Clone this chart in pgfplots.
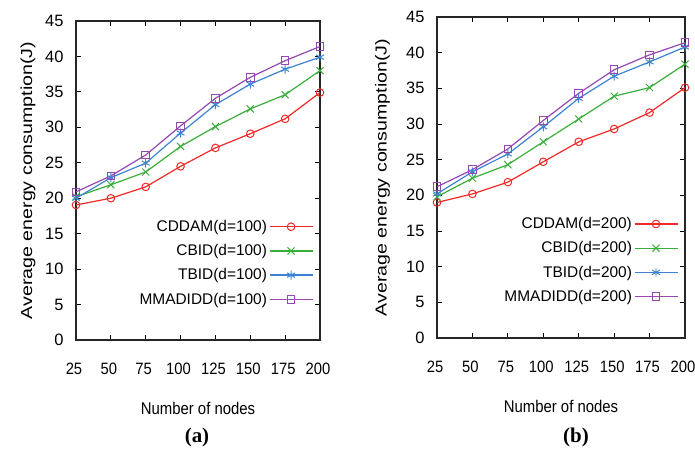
\documentclass[border=0pt]{standalone}
\usepackage{pgfplots}
\pgfplotsset{compat=1.18}
\usepackage{fontspec}
\setmainfont{Liberation Sans}
\newfontfamily\capfont{Liberation Serif}

\definecolor{cRed}{HTML}{F02828}
\definecolor{cGreen}{HTML}{3AAE3A}
\definecolor{cBlue}{HTML}{3C84D2}
\definecolor{cPurple}{HTML}{9448B0}

\pgfplotsset{
  nodeplot/.style={
    scale only axis,
    xmin=25, xmax=200, ymin=0, ymax=45,
    xtick={25,50,75,100,125,150,175,200},
    ytick={0,5,10,15,20,25,30,35,40,45},
    tick align=inside,
    major tick length=5bp,
    tick style={black, line width=0.8pt},
    axis line style={line width=1.1pt, black!85},
    font=\fontsize{16.5}{19}\selectfont,
    /pgf/number format/assume math mode=true,
    xticklabel={\scalebox{0.9}[1]{\pgfmathprintnumber{\tick}}},
    yticklabel style={xshift=-9bp},
    xticklabel style={yshift=-20bp, xshift=-2bp},
    xlabel={\fontsize{17}{20}\selectfont\scalebox{0.88}[1]{Number of nodes}},
    ylabel={\fontsize{16}{19}\selectfont\scalebox{1.23}[1]{Average energy consumption(J)}},
    xlabel style={yshift=-20bp},
    legend cell align=right,
    legend plot pos=right,
    legend style={draw=none, fill=none, at={(0.985,0.388)}, anchor=north east,
      font=\fontsize{15.5}{18}\selectfont, row sep=7.5bp},
    legend image code/.code={
      \draw[mark repeat=2, mark phase=2] plot coordinates {(0bp,0bp) (21.5bp,0bp) (43bp,0bp)};},
    every axis plot/.append style={line width=1.2pt},
  },
  ser1/.style={cRed, mark=o, mark size=3.8bp, mark options={line width=1pt}},
  ser2/.style={cGreen, mark=x, mark size=5bp, mark options={line width=1pt}},
  ser3/.style={cBlue, mark=asterisk, mark size=4.5bp, mark options={line width=1pt}},
  ser4/.style={cPurple, mark=square, mark size=3.8bp, mark options={line width=1pt}},
}

\begin{document}
\begin{tikzpicture}
\useasboundingbox (0,0) rectangle (695bp,451bp);

% (a) d=100
\begin{axis}[nodeplot, at={(76bp,111bp)}, anchor=south west, width=244bp, height=319bp,
  ylabel style={yshift=3bp}]
\addplot[ser1] coordinates {(25,19.05)(50,20.0)(75,21.6)(100,24.5)(125,27.1)(150,29.1)(175,31.2)(200,34.9)};
\addplot[ser2] coordinates {(25,20.2)(50,21.9)(75,23.7)(100,27.3)(125,30.1)(150,32.6)(175,34.6)(200,38.0)};
\addplot[ser3] coordinates {(25,20.0)(50,22.9)(75,24.95)(100,29.2)(125,33.2)(150,36.1)(175,38.2)(200,39.9)};
\addplot[ser4] coordinates {(25,20.9)(50,23.15)(75,26.1)(100,30.2)(125,34.1)(150,37.05)(175,39.4)(200,41.4)};
\legend{CDDAM(d=100),CBID(d=100),TBID(d=100),MMADIDD(d=100)}
\end{axis}

% (b) d=200
\begin{axis}[nodeplot, at={(437bp,113bp)}, anchor=south west, width=248bp, height=321bp,
  ylabel style={yshift=9.5bp}]
\addplot[ser1] coordinates {(25,19.0)(50,20.2)(75,21.85)(100,24.7)(125,27.5)(150,29.3)(175,31.6)(200,35.1)};
\addplot[ser2] coordinates {(25,19.8)(50,22.4)(75,24.3)(100,27.5)(125,30.7)(150,33.9)(175,35.1)(200,38.4)};
\addplot[ser3] coordinates {(25,20.2)(50,23.3)(75,25.8)(100,29.6)(125,33.6)(150,36.7)(175,38.7)(200,40.8)};
\addplot[ser4] coordinates {(25,21.2)(50,23.6)(75,26.5)(100,30.5)(125,34.3)(150,37.6)(175,39.7)(200,41.4)};
\legend{CDDAM(d=200),CBID(d=200),TBID(d=200),MMADIDD(d=200)}
\end{axis}

\node[font=\capfont\bfseries\fontsize{21}{25}\selectfont] at (197bp,14bp) {(a)};
\node[font=\capfont\bfseries\fontsize{21}{25}\selectfont] at (576bp,14bp) {(b)};
\end{tikzpicture}
\end{document}
